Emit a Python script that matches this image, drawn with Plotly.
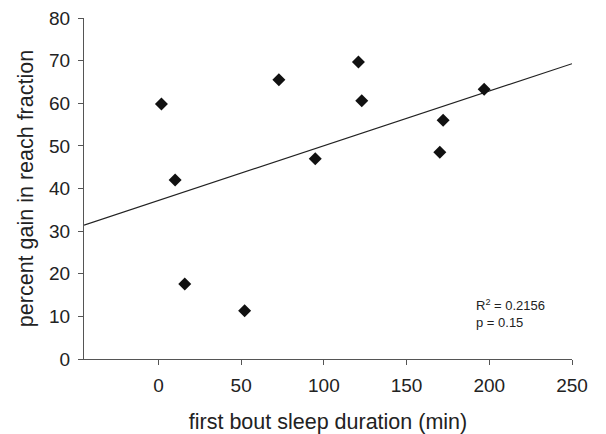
import numpy as np
import plotly.graph_objects as go

sleep_min = [1.8, 10.1, 15.9, 52.1, 72.8, 94.8, 120.9, 122.9, 170.1, 172.1, 196.9]
gain_pct = [59.8, 42.0, 17.6, 11.3, 65.5, 47.0, 69.7, 60.6, 48.5, 56.0, 63.3]
x_ticks = [0, 50, 100, 150, 200, 250]
y_ticks = [0, 10, 20, 30, 40, 50, 60, 70, 80]
x_range = [-45, 250]
y_range = [0, 80]

slope, intercept = np.polyfit(sleep_min, gain_pct, 1)
fit_x = np.array(x_range, dtype=float)
fit_y = slope * fit_x + intercept

FONT = "Liberation Sans, Arial, sans-serif"

fig = go.Figure()
fig.add_trace(go.Scatter(x=fit_x, y=fit_y, mode="lines",
                         line=dict(color="#222222", width=1.2), showlegend=False))
fig.add_trace(go.Scatter(x=sleep_min, y=gain_pct, mode="markers",
                         marker=dict(symbol="diamond", size=10, color="#111111"),
                         showlegend=False))

fig.add_annotation(x=0.8, y=0.08, xref="paper", yref="paper", xanchor="left", yanchor="bottom",
                   text="R<sup>2</sup> = 0.2156<br>p = 0.15", showarrow=False, align="left",
                   font=dict(family=FONT, size=13, color="#222222"))

axis_common = dict(showline=True, linecolor="#555555", linewidth=1.2, ticks="outside",
                   tickcolor="#555555", ticklen=5, tickwidth=1.2, showgrid=False, zeroline=False,
                   automargin=False,
                   tickfont=dict(family=FONT, size=19, color="#222222"))
fig.update_xaxes(range=x_range, tickvals=x_ticks, ticklabelstandoff=4,
                 title=dict(text="first bout sleep duration (min)",
                            font=dict(family=FONT, size=21.5, color="#222222"), standoff=19),
                 **axis_common)
fig.update_yaxes(range=y_range, tickvals=y_ticks, ticklabelstandoff=4,
                 title=dict(text="percent gain in reach fraction",
                            font=dict(family=FONT, size=21.5, color="#222222"), standoff=9),
                 **axis_common)
fig.update_layout(width=606, height=434, margin=dict(l=84, r=34, t=18, b=75),
                  plot_bgcolor="white", paper_bgcolor="white",
                  font=dict(family=FONT, color="#222222"))
fig.write_html("out.html")
